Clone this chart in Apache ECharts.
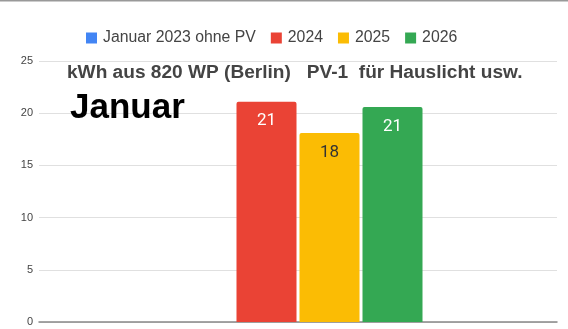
<!DOCTYPE html>
<html>
<head>
<meta charset="utf-8">
<script src="https://cdn.jsdelivr.net/npm/echarts@6/dist/echarts.min.js"></script>
<style>
html,body{margin:0;padding:0;background:#fff;}
#c{width:568px;height:329px;}
</style>
</head>
<body>
<div id="c"></div>
<script>
const categories = ['Januar'];
const seriesNames = ['Januar 2023 ohne PV', '2024', '2025', '2026'];
const values2023 = [0];
const values2024 = [21.1];
const values2025 = [18.1];
const values2026 = [20.6];
const yTicks = [0, 5, 10, 15, 20, 25];
const titleText = 'kWh aus 820 WP (Berlin)   PV-1  f\u00fcr Hauslicht usw.';
const monthText = 'Januar';

const colors = ['#4285f4', '#ea4335', '#fbbc04', '#34a853'];
const labelColors = ['#ffffff', '#ffffff', '#333333', '#ffffff'];
const allValues = [values2023, values2024, values2025, values2026];

const chart = echarts.init(document.getElementById('c'), null, {renderer: 'canvas'});
chart.setOption({
  animation: false,
  backgroundColor: '#ffffff',
  color: colors,
  legend: {
    top: 30,
    left: 86,
    padding: 0,
    itemWidth: 11,
    itemHeight: 11,
    itemGap: 15,
    icon: 'rect',
    textStyle: {fontFamily: 'Liberation Sans, Arial, sans-serif', fontSize: 15.8, color: '#444', padding: [0, 0, 0, 1]},
    data: seriesNames
  },
  title: [
    {text: titleText, left: 67, top: 63, padding: 0, textStyle: {fontFamily: 'Liberation Sans, Arial, sans-serif', fontWeight: 'bold', fontSize: 19.1, color: '#444'}},
    {text: monthText, left: 70, top: 91, padding: 0, textStyle: {fontFamily: 'Liberation Sans, Arial, sans-serif', fontWeight: 'bold', fontSize: 35, color: '#000'}}
  ],
  graphic: [
    {type: 'line', shape: {x1: 0, y1: 0.5, x2: 568, y2: 0.5}, style: {stroke: '#999', lineWidth: 2}}
  ],
  grid: {left: 39, right: 11, top: 61, bottom: 7, containLabel: false},
  xAxis: {
    type: 'category',
    data: categories,
    axisLine: {lineStyle: {color: '#888', width: 1.5}},
    axisTick: {show: false},
    axisLabel: {show: false}
  },
  yAxis: {
    type: 'value',
    min: yTicks[0],
    max: yTicks[yTicks.length - 1],
    interval: 5,
    axisLine: {show: false},
    axisTick: {show: false},
    axisLabel: {fontFamily: 'Liberation Sans, Arial, sans-serif', fontSize: 11, color: '#444', margin: 6},
    splitLine: {lineStyle: {color: '#e0e0e0', width: 1}}
  },
  series: seriesNames.map((name, i) => ({
    name: name,
    type: 'bar',
    data: allValues[i],
    barWidth: 60,
    barGap: '5%',
    itemStyle: {color: colors[i], borderRadius: [2, 2, 0, 0]},
    label: {
      show: allValues[i][0] > 0,
      position: 'insideTop',
      distance: 11,
      fontFamily: 'Roboto, sans-serif',
      fontSize: 17,
      color: labelColors[i],
      formatter: p => Math.round(p.value)
    }
  }))
});
</script>
</body>
</html>
